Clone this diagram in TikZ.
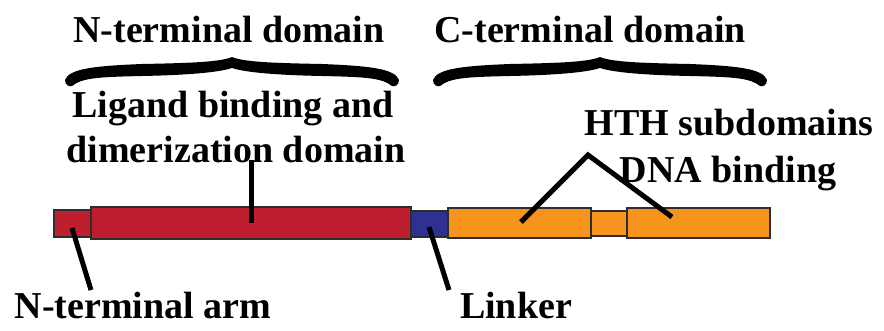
\documentclass[tikz,border=0pt]{standalone}
\usepackage{fontspec}
\setmainfont{Liberation Serif}
\definecolor{segred}{RGB}{190,30,45}
\definecolor{segblue}{RGB}{46,49,146}
\definecolor{segorange}{RGB}{247,148,29}
\definecolor{segedge}{RGB}{45,45,45}
\begin{document}
\begin{tikzpicture}[x=1pt,y=-1pt,
  seg/.style={draw=segedge,line width=1.3pt,rectangle,inner sep=0pt,outer sep=0pt},
  lbl/.style={inner sep=0pt,anchor=base,font=\fontsize{38}{45}\selectfont\bfseries},
  pointer/.style={line width=5pt,black},
  curlybrace/.pic={
    \fill[black] (-167,23) .. controls (-163,12) and (-140,9) .. (-90,7)
      .. controls (-40,6) and (-12,5) .. (0,0)
      .. controls (12,5) and (40,6) .. (90,7)
      .. controls (140,9) and (163,12) .. (167,23)
      .. controls (167,28) and (163,30) .. (160,29)
      .. controls (150,21) and (135,20) .. (90,19)
      .. controls (40,18) and (12,15) .. (0,11)
      .. controls (-12,15) and (-40,18) .. (-90,19)
      .. controls (-135,20) and (-150,21) .. (-160,29)
      .. controls (-163,30) and (-167,28) .. (-167,23) -- cycle;
  }]
\useasboundingbox (0,0) rectangle (884,330);
% segments
\node[seg,fill=segred,minimum width=37pt,minimum height=27pt] (arm) at (72.5,223.5) {};
\node[seg,fill=segblue,minimum width=37pt,minimum height=26pt] (linker) at (429.5,224) {};
\node[seg,fill=segorange,minimum width=36pt,minimum height=25pt] (mid) at (609,223.5) {};
\node[seg,fill=segred,minimum width=320pt,minimum height=32pt] (lbd) at (251,223) {};
\node[seg,fill=segorange,minimum width=143pt,minimum height=30pt] (hth1) at (519.5,223) {};
\node[seg,fill=segorange,minimum width=143pt,minimum height=30pt] (hth2) at (698.5,223) {};
% braces
\pic at (232,57) {curlybrace};
\pic at (600,57) {curlybrace};
% labels
\node[lbl] (ndom) at (229,42) {N-terminal domain};
\node[lbl] (cdom) at (590,42) {C-terminal domain};
\node[lbl] (lig1) at (233,117) {Ligand binding and};
\node[lbl] (lig2) at (236,162) {dimerization domain};
\node[lbl] (hthA) at (729,135) {HTH subdomains};
\node[lbl] (hthB) at (728,182) {DNA binding};
\node[lbl] (armlbl) at (143,318) {N-terminal arm};
\node[lbl] (linklbl) at (516,318) {Linker};
% pointer coordinates
\coordinate (armpt) at (72,228);
\coordinate (armend) at (91,290);
\coordinate (linkpt) at (429,227);
\coordinate (linkend) at (449,290);
\coordinate (lbdtop) at (251,160);
\coordinate (apex) at (588,155);
\coordinate (h1pt) at (521,222);
\coordinate (h2pt) at (672,217);
% pointers
\draw[pointer] (lbd.center) -- (lbdtop);
\draw[pointer] (armpt) -- (armend);
\draw[pointer] (linkpt) -- (linkend);
\draw[pointer] (h1pt) -- (apex) -- (h2pt);
\end{tikzpicture}
\end{document}
